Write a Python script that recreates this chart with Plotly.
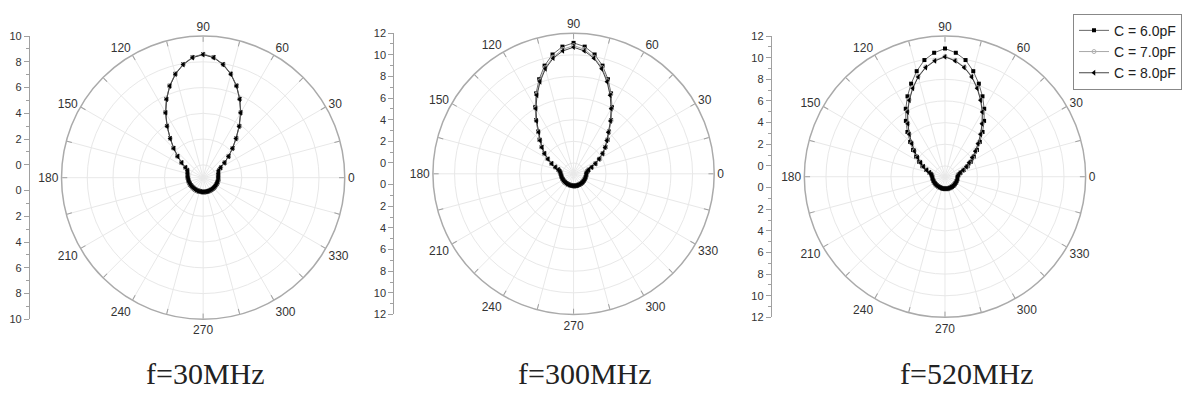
import plotly.graph_objects as go

# Angle grid (degrees)
ANGLES = list(range(0, 360, 5))

SERIES_NAMES = ["C = 6.0pF", "C = 7.0pF", "C = 8.0pF"]
FREQ_LABELS = ["f=30MHz", "f=300MHz", "f=520MHz"]
R_MAX = [10, 12, 12]

# f = 30 MHz
f30_c6 = [0.20, 0.20, 0.22, 0.25, 0.30, 0.36, 0.60, 1.05, 1.60, 2.25, 3.00, 3.90, 4.85, 5.75, 6.60, 7.35, 7.95, 8.40, 8.60,
          8.40, 7.95, 7.35, 6.60, 5.75, 4.85, 3.90, 3.00, 2.25, 1.60, 1.05, 0.60, 0.36, 0.30, 0.25, 0.22, 0.20,
          0.20, 0.18, 0.17, 0.16, 0.15, 0.14, 0.14, 0.13, 0.13, 0.12, 0.12, 0.12, 0.12, 0.12, 0.12, 0.12, 0.12, 0.12,
          0.12, 0.12, 0.12, 0.12, 0.12, 0.12, 0.12, 0.12, 0.13, 0.13, 0.14, 0.14, 0.15, 0.16, 0.17, 0.18, 0.19, 0.20]
f30_c7 = [0.19, 0.20, 0.21, 0.24, 0.29, 0.35, 0.58, 1.03, 1.58, 2.23, 2.98, 3.88, 4.83, 5.73, 6.58, 7.33, 7.93, 8.38, 8.58,
          8.38, 7.93, 7.33, 6.58, 5.73, 4.83, 3.88, 2.98, 2.23, 1.58, 1.03, 0.58, 0.35, 0.29, 0.24, 0.21, 0.20,
          0.19, 0.17, 0.16, 0.15, 0.14, 0.13, 0.13, 0.12, 0.12, 0.11, 0.11, 0.11, 0.11, 0.11, 0.11, 0.11, 0.11, 0.11,
          0.11, 0.11, 0.11, 0.11, 0.11, 0.11, 0.11, 0.11, 0.12, 0.12, 0.13, 0.13, 0.14, 0.15, 0.16, 0.17, 0.18, 0.19]
f30_c8 = [0.18, 0.19, 0.20, 0.23, 0.28, 0.34, 0.57, 1.02, 1.57, 2.22, 2.97, 3.87, 4.82, 5.72, 6.57, 7.32, 7.92, 8.36, 8.56,
          8.36, 7.92, 7.32, 6.57, 5.72, 4.82, 3.87, 2.97, 2.22, 1.57, 1.02, 0.57, 0.34, 0.28, 0.23, 0.20, 0.19,
          0.18, 0.16, 0.15, 0.14, 0.13, 0.12, 0.12, 0.11, 0.11, 0.10, 0.10, 0.10, 0.10, 0.10, 0.10, 0.10, 0.10, 0.10,
          0.10, 0.10, 0.10, 0.10, 0.10, 0.10, 0.10, 0.10, 0.11, 0.11, 0.12, 0.12, 0.13, 0.14, 0.15, 0.16, 0.17, 0.18]

# f = 300 MHz
f300_c6 = [0.18, 0.22, 0.30, 0.45, 0.80, 1.25, 1.75, 2.30, 2.85, 3.45, 4.10, 5.05, 6.10, 7.20, 8.30, 9.35, 10.20, 10.80, 11.10,
           10.80, 10.20, 9.35, 8.30, 7.20, 6.10, 5.05, 4.10, 3.45, 2.85, 2.30, 1.75, 1.25, 0.80, 0.45, 0.30, 0.22,
           0.18, 0.16, 0.15, 0.14, 0.13, 0.13, 0.12, 0.12, 0.12, 0.11, 0.11, 0.11, 0.11, 0.11, 0.11, 0.11, 0.11, 0.11,
           0.11, 0.11, 0.11, 0.11, 0.11, 0.11, 0.11, 0.11, 0.12, 0.12, 0.12, 0.13, 0.13, 0.14, 0.15, 0.16, 0.17, 0.18]
f300_c7 = [0.18, 0.22, 0.30, 0.45, 0.80, 1.25, 1.75, 2.30, 2.85, 3.40, 4.05, 5.00, 6.00, 7.10, 8.15, 9.15, 9.95, 10.55, 10.85,
           10.55, 9.95, 9.15, 8.15, 7.10, 6.00, 5.00, 4.05, 3.40, 2.85, 2.30, 1.75, 1.25, 0.80, 0.45, 0.30, 0.22,
           0.18, 0.16, 0.15, 0.14, 0.13, 0.13, 0.12, 0.12, 0.12, 0.11, 0.11, 0.11, 0.11, 0.11, 0.11, 0.11, 0.11, 0.11,
           0.11, 0.11, 0.11, 0.11, 0.11, 0.11, 0.11, 0.11, 0.12, 0.12, 0.12, 0.13, 0.13, 0.14, 0.15, 0.16, 0.17, 0.18]
f300_c8 = [0.18, 0.22, 0.30, 0.45, 0.78, 1.22, 1.72, 2.27, 2.80, 3.35, 4.00, 4.95, 5.95, 7.00, 8.05, 9.05, 9.85, 10.40, 10.70,
           10.40, 9.85, 9.05, 8.05, 7.00, 5.95, 4.95, 4.00, 3.35, 2.80, 2.27, 1.72, 1.22, 0.78, 0.45, 0.30, 0.22,
           0.18, 0.16, 0.15, 0.14, 0.13, 0.13, 0.12, 0.12, 0.12, 0.11, 0.11, 0.11, 0.11, 0.11, 0.11, 0.11, 0.11, 0.11,
           0.11, 0.11, 0.11, 0.11, 0.11, 0.11, 0.11, 0.11, 0.12, 0.12, 0.12, 0.13, 0.13, 0.14, 0.15, 0.16, 0.17, 0.18]

# f = 520 MHz
f520_c6 = [0.18, 0.22, 0.30, 0.50, 0.85, 1.30, 1.75, 2.25, 2.85, 3.55, 4.40, 5.30, 6.25, 7.20, 8.15, 9.10, 9.95, 10.50, 10.85,
           10.50, 9.95, 9.10, 8.15, 7.20, 6.25, 5.30, 4.40, 3.55, 2.85, 2.25, 1.75, 1.30, 0.85, 0.50, 0.30, 0.22,
           0.18, 0.16, 0.15, 0.14, 0.13, 0.13, 0.12, 0.12, 0.12, 0.11, 0.11, 0.11, 0.11, 0.11, 0.11, 0.11, 0.11, 0.11,
           0.11, 0.11, 0.11, 0.11, 0.11, 0.11, 0.11, 0.11, 0.12, 0.12, 0.12, 0.13, 0.13, 0.14, 0.15, 0.16, 0.17, 0.18]
f520_c7 = [0.18, 0.22, 0.30, 0.48, 0.80, 1.20, 1.60, 2.10, 2.70, 3.35, 4.15, 5.00, 5.95, 6.85, 7.75, 8.60, 9.30, 9.80, 10.12,
           9.80, 9.30, 8.60, 7.75, 6.85, 5.95, 5.00, 4.15, 3.35, 2.70, 2.10, 1.60, 1.20, 0.80, 0.48, 0.30, 0.22,
           0.18, 0.16, 0.15, 0.14, 0.13, 0.13, 0.12, 0.12, 0.12, 0.11, 0.11, 0.11, 0.11, 0.11, 0.11, 0.11, 0.11, 0.11,
           0.11, 0.11, 0.11, 0.11, 0.11, 0.11, 0.11, 0.11, 0.12, 0.12, 0.12, 0.13, 0.13, 0.14, 0.15, 0.16, 0.17, 0.18]
f520_c8 = [0.18, 0.22, 0.30, 0.47, 0.78, 1.18, 1.58, 2.08, 2.67, 3.32, 4.12, 4.97, 5.90, 6.80, 7.70, 8.55, 9.25, 9.75, 10.08,
           9.75, 9.25, 8.55, 7.70, 6.80, 5.90, 4.97, 4.12, 3.32, 2.67, 2.08, 1.58, 1.18, 0.78, 0.47, 0.30, 0.22,
           0.18, 0.16, 0.15, 0.14, 0.13, 0.13, 0.12, 0.12, 0.12, 0.11, 0.11, 0.11, 0.11, 0.11, 0.11, 0.11, 0.11, 0.11,
           0.11, 0.11, 0.11, 0.11, 0.11, 0.11, 0.11, 0.11, 0.12, 0.12, 0.12, 0.13, 0.13, 0.14, 0.15, 0.16, 0.17, 0.18]

DATA = [[f30_c6, f30_c7, f30_c8], [f300_c6, f300_c7, f300_c8], [f520_c6, f520_c7, f520_c8]]

W, H = 1182, 400
# (center_x, center_y, radius) in pixels, and left scale x position
GEOM = [(204, 177, 146, 30), (576, 173, 145, 396), (949, 176, 145, 775)]
LABEL_X = [206, 587, 971]

STYLES = [
    dict(line=dict(color="#666666", width=1), marker=dict(symbol="square", size=4, color="#000000")),
    dict(line=dict(color="#a8a8a8", width=1), marker=dict(symbol="circle-open", size=4, color="#b0b0b0", line=dict(width=1))),
    dict(line=dict(color="#444444", width=1), marker=dict(symbol="triangle-left", size=5, color="#000000")),
]

fig = go.Figure()
layout = dict(width=W, height=H, margin=dict(l=0, r=0, t=0, b=0),
              paper_bgcolor="white", plot_bgcolor="white",
              font=dict(family="Arial, Liberation Sans, sans-serif", color="#333333"),
              showlegend=True,
              legend=dict(x=1078 / W, y=1 - 8 / H, xanchor="left", yanchor="top",
                          bordercolor="#888888", borderwidth=1, bgcolor="white",
                          font=dict(size=14, color="#222222"), tracegroupgap=0,
                          itemwidth=30))

ang_ticks = list(range(0, 360, 15))
ang_text = [str(a) if a % 30 == 0 else "" for a in ang_ticks]

annotations = []
for i in range(3):
    cx, cy, rad, axx = GEOM[i]
    rmax = R_MAX[i]
    pk = "polar" if i == 0 else f"polar{i+1}"
    for j in range(3):
        fig.add_trace(go.Scatterpolar(
            r=DATA[i][j], theta=ANGLES, mode="lines+markers", name=SERIES_NAMES[j],
            subplot=pk, showlegend=(i == 2), **STYLES[j]))
    layout[pk] = dict(
        domain=dict(x=[(cx - rad) / W, (cx + rad) / W], y=[1 - (cy + rad) / H, 1 - (cy - rad) / H]),
        bgcolor="white",
        radialaxis=dict(range=[-1, rmax], tickvals=list(range(0, rmax, 2)), showticklabels=False,
                        showline=False, ticks="", gridcolor="#e8e8e8", gridwidth=1),
        angularaxis=dict(rotation=0, direction="counterclockwise", tickmode="array",
                         tickvals=ang_ticks, ticktext=ang_text, ticks="inside", ticklen=5,
                         tickcolor="#a0a0a0", showline=True, linecolor="#aaaaaa", linewidth=1.5,
                         gridcolor="#e8e8e8", gridwidth=1, tickfont=dict(size=12, color="#333333")))
    # left radial scale as a cartesian axis
    xk = "xaxis" if i == 0 else f"xaxis{i+1}"
    yk = "yaxis" if i == 0 else f"yaxis{i+1}"
    xr = "x" if i == 0 else f"x{i+1}"
    yr = "y" if i == 0 else f"y{i+1}"
    span = rmax + 1
    major_vals = [v for v in range(0, rmax + 1, 2)]
    tickvals = [1 + v for v in major_vals] + [-(1 + v) for v in major_vals]
    ticktext = [str(v) for v in major_vals] + [str(v) for v in major_vals]
    minor_vals = [1 + v for v in range(1, rmax, 2)] + [-(1 + v) for v in range(1, rmax, 2)]
    layout[xk] = dict(domain=[axx / W, (axx + 1) / W], visible=False, range=[0, 1], anchor=yr)
    layout[yk] = dict(domain=[1 - (cy + rad) / H, 1 - (cy - rad) / H], range=[-span, span],
                      anchor=xr, side="left", showline=True, linecolor="#a0a0a0", linewidth=1,
                      showgrid=False, zeroline=False, tickmode="array", tickvals=tickvals,
                      ticktext=ticktext, ticks="outside", ticklen=5, tickcolor="#a0a0a0",
                      tickfont=dict(size=11, color="#333333"), fixedrange=True,
                      minor=dict(tickmode="array", tickvals=minor_vals, ticks="outside",
                                 ticklen=3, tickcolor="#a0a0a0", showgrid=False))
    fig.add_trace(go.Scatter(x=[0.5], y=[0], xaxis=xr, yaxis=yr, mode="markers",
                             marker=dict(opacity=0), showlegend=False, hoverinfo="skip"))
    annotations.append(dict(text=FREQ_LABELS[i], x=LABEL_X[i] / W, y=1 - 379 / H, xref="paper",
                            yref="paper", showarrow=False, xanchor="center", yanchor="middle",
                            font=dict(family="Liberation Serif, Times New Roman, serif", size=30,
                                      color="#222222")))

layout["annotations"] = annotations
fig.update_layout(**layout)
fig.write_html("out.html")
